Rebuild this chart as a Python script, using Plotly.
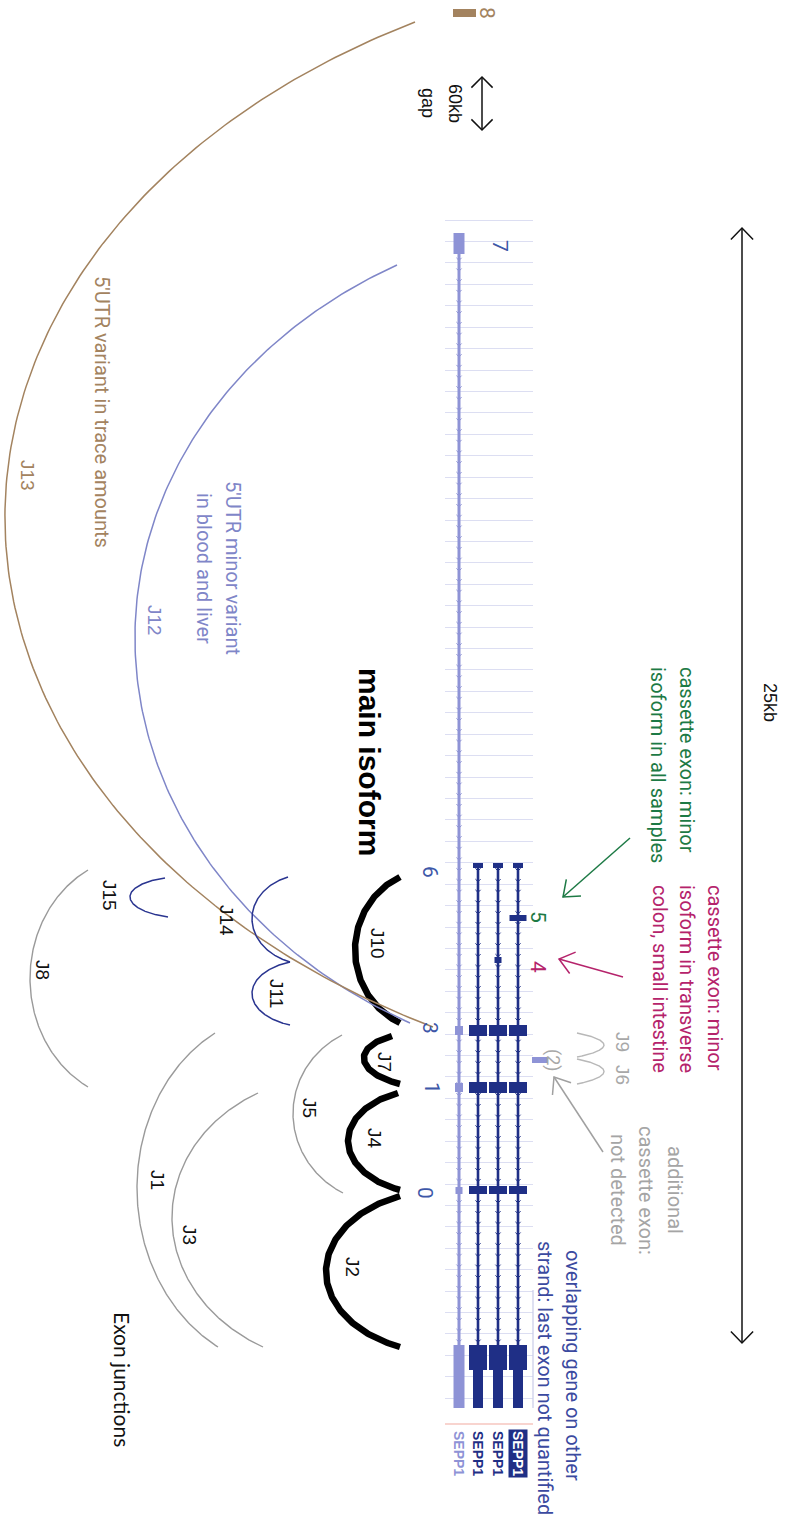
import numpy as np
import plotly.graph_objects as go

W, H = 787, 1538

# ---------------------------------------------------------------------------
# Gene model, drawn in a rotated genome-browser layout (gene runs top -> bottom)
# ---------------------------------------------------------------------------
track_labels = ["SEPP1", "SEPP1", "SEPP1", "SEPP1"]
track_x = [459, 478, 498, 518]            # isoform rows
track_start = [233, 865, 865, 865]         # first exon of each isoform
track_end = 1408                           # end of the last exon

# exon blocks: (start, end, half width) along the light reference isoform
light_exons = [(233, 254, 5.5), (1026, 1035, 4), (1083, 1092, 4),
               (1187, 1194, 3.5), (1345, 1408, 5.5)]
# exon blocks shared by the three dark isoforms
dark_exons = [(863, 868, 5), (1025, 1036, 9), (1082, 1093, 9),
              (1186, 1194, 9), (1345, 1370, 9), (1370, 1408, 5)]
# cassette exons present on a single isoform: (track index, start, end, half width)
cassette_exons = [(2, 957, 963, 3.5), (3, 915, 921, 8.5)]

# exon numbers
exon_names = ["8", "7", "6", "5", "4", "3", "(2)", "1", "0"]
exon_label_x = [487, 500, 430, 538, 538, 430, 553, 432, 425]
exon_label_y = [13, 246, 872, 917, 967, 1028, 1060, 1088, 1193]
exon_label_color = ["#a3835f", "#3d57a8", "#3d57a8", "#1d7a45", "#b5236b",
                    "#3d57a8", "#a8a8a8", "#3d57a8", "#3d57a8"]

# exon 8 (beyond the 60kb gap) and the undetected cassette exon (2)
exon8 = (453, 476, 9, 17)
exon2 = (532, 548, 1057, 1063)

# ---------------------------------------------------------------------------
# Exon junctions: ends along the gene, end offsets, apex and arc opening angle
# ---------------------------------------------------------------------------
junctions = ["J1", "J2", "J3", "J4", "J5", "J6", "J7", "J8",
             "J9", "J10", "J11", "J12", "J13", "J14", "J15"]
j_y0 = [1033, 1196, 1093, 1093, 1035, 1059, 1036, 870, 1033, 877, 962, 265, 22, 877, 878]
j_y1 = [1347, 1347, 1347, 1190, 1193, 1084, 1084, 1087, 1057, 1023, 1025, 1023, 1027, 962, 917]
j_x0 = [215, 400, 258, 398, 342, 577, 392, 88, 577, 400, 290, 397, 415, 288, 165]
j_x1 = [218, 400, 263, 400, 343, 577, 400, 88, 577, 400, 290, 410, 433, 290, 168]
j_apex = [137, 326, 172, 348, 293, 604, 364, 30, 604, 355, 252, 135, 5, 252, 130]
j_angle = [62, 68, 62, 68, 62, 40, 60, 62, 40, 66, 70, 62, 62, 70, 70]
j_kind = ["minor", "main", "minor", "main", "minor", "faint", "main", "minor",
          "faint", "main", "alt", "blood", "trace", "alt", "alt"]
j_label_x = [158, 353, 190, 375, 310, 623, 385, 43, 623, 378, 277, 155, 28, 227, 110]
j_label_y = [1180, 1267, 1235, 1138, 1108, 1075, 1062, 970, 1042, 943, 993, 620, 475, 920, 895]

kind_style = {
    "main":  dict(color="#000000", width=6.5),
    "minor": dict(color="#9a9a9a", width=1.4),
    "faint": dict(color="#b8b8b8", width=1.4),
    "alt":   dict(color="#2a3590", width=1.5),
    "blood": dict(color="#7f86c8", width=1.5),
    "trace": dict(color="#a3835f", width=1.5),
}
label_color = {"main": "#111111", "minor": "#111111", "faint": "#a8a8a8",
               "alt": "#111111", "blood": "#7f86c8", "trace": "#a3835f"}

NAVY = "#1f2f86"
LAV = "#8e93d6"
GRID = "#dcdef2"
MAGENTA = "#b5236b"
GREEN = "#1d7a45"
GREY = "#a5a5a5"
TEXT_FONT = "Roboto, Arial, sans-serif"
LABEL_FONT = "Liberation Sans, Arial, sans-serif"


def arc(y0, y1, x0, x1, apex, angle_deg, n=200):
    """Circular-style arc between two points along the gene, bulging to `apex`."""
    tm = np.radians(angle_deg)
    th = np.linspace(-tm, tm, n)
    t = 0.5 + 0.5 * np.sin(th) / np.sin(tm)
    base = x0 + (x1 - x0) * t
    depth = (x0 + x1) / 2.0 - apex
    bulge = (np.cos(th) - np.cos(tm)) / (1 - np.cos(tm))
    return base - depth * bulge, y0 + (y1 - y0) * t


def chevron(tip_x, tip_y, from_x, from_y, length, spread_deg):
    ang = np.arctan2(from_y - tip_y, from_x - tip_x)
    s = np.radians(spread_deg)
    xs = [tip_x + length * np.cos(ang + s), tip_x, tip_x + length * np.cos(ang - s)]
    ys = [tip_y + length * np.sin(ang + s), tip_y, tip_y + length * np.sin(ang - s)]
    return xs, ys


fig = go.Figure()

# grid subplot (the browser's guide lines) ------------------------------------
fig.add_trace(go.Scatter(x=[0.5], y=[800], mode="markers", marker=dict(opacity=0),
                         hoverinfo="skip", showlegend=False, xaxis="x", yaxis="y"))

# isoform tracks with strand chevrons --------------------------------------------
step = 21.42 / 2
for i, (tx, ts) in enumerate(zip(track_x, track_start)):
    col = LAV if i == 0 else NAVY
    fig.add_trace(go.Scatter(x=[tx, tx], y=[ts, track_end], mode="lines",
                             line=dict(color=col, width=2.6 if i else 3),
                             hoverinfo="skip", showlegend=False, xaxis="x2", yaxis="y2"))
    cx, cy = [], []
    for yy in np.arange(ts + 6, track_end - 60, step):
        cx += [tx - 2.6, tx, tx + 2.6, None]
        cy += [yy - 2.6, yy, yy - 2.6, None]
    fig.add_trace(go.Scatter(x=cx, y=cy, mode="lines", line=dict(color=col, width=1),
                             hoverinfo="skip", showlegend=False, xaxis="x2", yaxis="y2"))

# exon blocks -------------------------------------------------------------------
shapes = []


def block(x0, x1, y0, y1, color):
    shapes.append(dict(type="rect", xref="x2", yref="y2", x0=x0, x1=x1, y0=y0, y1=y1,
                       fillcolor=color, line=dict(width=0), layer="above"))


for (s, e, hw) in light_exons:
    block(track_x[0] - hw, track_x[0] + hw, s, e, LAV)
for tx in track_x[1:]:
    for (s, e, hw) in dark_exons:
        block(tx - hw, tx + hw, s, e, NAVY)
for (ti, s, e, hw) in cassette_exons:
    block(track_x[ti] - hw, track_x[ti] + hw, s, e, NAVY)
block(exon8[0], exon8[1], exon8[2], exon8[3], "#a3835f")
block(exon2[0], exon2[1], exon2[2], exon2[3], LAV)

# browser frame remnants
shapes.append(dict(type="line", xref="x2", yref="y2", x0=445, x1=533, y0=1424, y1=1424,
                   line=dict(color="#f2aaa0", width=1.2)))
shapes.append(dict(type="line", xref="x2", yref="y2", x0=533, x1=533, y0=1290, y1=1408,
                   line=dict(color="#c9cbe8", width=1.2)))

# junction arcs -------------------------------------------------------------------
for k in range(len(junctions)):
    ax, ay = arc(j_y0[k], j_y1[k], j_x0[k], j_x1[k], j_apex[k], j_angle[k])
    fig.add_trace(go.Scatter(x=ax, y=ay, mode="lines", line=dict(**kind_style[j_kind[k]]),
                             hoverinfo="skip", showlegend=False, xaxis="x2", yaxis="y2"))

# arrows -----------------------------------------------------------------------
arrows = [
    # (from_x, from_y, to_x, to_y, color, head at both ends, head length, spread)
    (742, 1343, 742, 228, "#111111", True, 16, 44),
    (482, 130, 482, 77, "#111111", True, 15, 45),
    (630, 838, 563, 897, GREEN, False, 18, 38),
    (623, 977, 559, 959, MAGENTA, False, 18, 38),
    (603, 1152, 554, 1077, "#a0a0a0", False, 18, 38),
]
for (fx, fy, tx_, ty, col, both, hl, sp) in arrows:
    xs, ys = [fx, tx_, None], [fy, ty, None]
    hx, hy = chevron(tx_, ty, fx, fy, hl, sp)
    xs += hx + [None]
    ys += hy + [None]
    if both:
        hx, hy = chevron(fx, fy, tx_, ty, hl, sp)
        xs += hx
        ys += hy
    fig.add_trace(go.Scatter(x=xs, y=ys, mode="lines", line=dict(color=col, width=1.5),
                             hoverinfo="skip", showlegend=False, xaxis="x2", yaxis="y2"))

# text ------------------------------------------------------------------------------
ann = []


def rtext(x, y, text, size, color, family=TEXT_FONT, yanchor="middle", **kw):
    ann.append(dict(x=x, y=y, xref="x2", yref="y2", text=text, textangle=90,
                    showarrow=False, xanchor="center", yanchor=yanchor,
                    font=dict(size=size, color=color, family=family), **kw))


for name, lx, ly, lc in zip(exon_names, exon_label_x, exon_label_y, exon_label_color):
    rtext(lx, ly, name, 21 if name != "(2)" else 18, lc)

for k, name in enumerate(junctions):
    rtext(j_label_x[k], j_label_y[k], name, 19, label_color[j_kind[k]], family=LABEL_FONT)

for i, lx in enumerate(track_x):
    if i == 3:
        rtext(lx, 1453, "<b>SEPP1</b>", 14, "#ffffff", family=LABEL_FONT,
              bgcolor=NAVY, borderpad=1)
    else:
        rtext(lx, 1453, "<b>SEPP1</b>", 14, LAV if i == 0 else NAVY, family=LABEL_FONT)

rtext(770, 702, "25kb", 18, "#111111", family=LABEL_FONT)
rtext(455, 103, "60kb", 18, "#111111", family=LABEL_FONT)
rtext(428, 103, "gap", 18, "#111111", family=LABEL_FONT)
rtext(370, 762, "<b>main isoform</b>", 30, "#000000", family=LABEL_FONT)
rtext(123, 1379, "Exon junctions", 21, "#111111", family="Lato, Open Sans, sans-serif")

for lx, line in zip([715, 687, 660], ["cassette exon: minor", "isoform in transverse",
                                       "colon, small intestine"]):
    rtext(lx, 883, line, 20, MAGENTA, yanchor="top")
for lx, line in zip([687, 658], ["cassette exon: minor", "isoform in all samples"]):
    rtext(lx, 665, line, 20, GREEN, yanchor="top")
for lx, line in zip([675, 646, 618], ["additional", "cassette exon:", "not detected"]):
    rtext(lx, 1190, line, 20, GREY)
for lx, ly, line in zip([573, 545], [1365, 1378], ["overlapping gene on other",
                                                   "strand: last exon not quantified"]):
    rtext(lx, ly, line, 20, "#3b4aa0")
for lx, line in zip([233, 204], ["5'UTR minor variant", "in blood and liver"]):
    rtext(lx, 568, line, 20, "#7f86c8")
rtext(102, 412, "5'UTR variant in trace amounts", 20, "#a3835f")

hidden = dict(visible=False)
fig.update_layout(
    width=W, height=H,
    margin=dict(l=0, r=0, t=0, b=0),
    paper_bgcolor="white", plot_bgcolor="rgba(0,0,0,0)",
    showlegend=False,
    xaxis=dict(domain=[445 / W, 533 / W], range=[0, 1], showgrid=False, zeroline=False,
               showticklabels=False, showline=False, ticks=""),
    yaxis=dict(domain=[1 - 1405 / H, 1 - 215 / H], range=[1405, 215], tick0=220.15,
               dtick=21.42, showgrid=True, gridcolor=GRID, gridwidth=1.2, zeroline=False,
               showticklabels=False, showline=False, ticks=""),
    xaxis2=dict(domain=[0, 1], range=[0, W], anchor="y2", **hidden),
    yaxis2=dict(domain=[0, 1], range=[H, 0], anchor="x2", **hidden),
    shapes=shapes,
    annotations=ann,
)

fig.write_html("out.html")
